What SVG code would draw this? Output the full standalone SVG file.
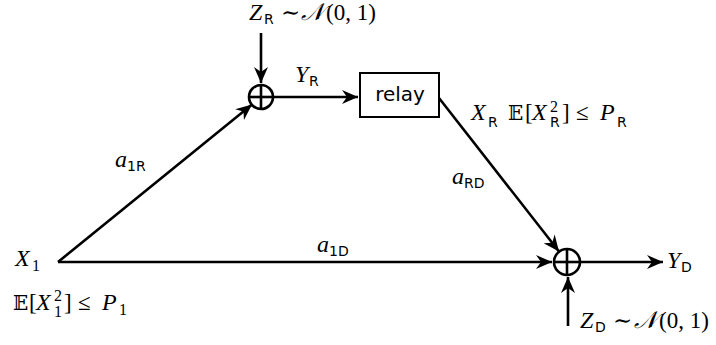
<svg xmlns="http://www.w3.org/2000/svg" width="716" height="345" viewBox="0 0 716 345">
<style>
text{fill:#000}
.m{font-family:"Liberation Serif","DejaVu Serif",serif;font-size:23px}
.i{font-style:italic;font-size:24px}
.s{font-family:"DejaVu Sans","Liberation Sans",sans-serif;font-size:14px;font-style:normal}
.n{font-family:"Liberation Serif",serif;font-size:16px;font-style:normal}
.bb{font-family:"DejaVu Serif","DejaVu Sans",serif;font-style:normal;font-size:20px}
.c{fill:none;stroke:#000;stroke-width:2.6}
.e{fill:none;stroke:#000;stroke-width:2.6}
</style>
<defs>
<marker id="ah" markerUnits="userSpaceOnUse" markerWidth="20" markerHeight="16" viewBox="-17 -8 19 16" refX="0" refY="0" orient="auto">
<path d="M0,0 L-16,-7 L-11,0 L-16,7 Z" fill="#000"/>
</marker>
</defs>
<g id="connectors">
<line class="e" x1="261" y1="33" x2="261" y2="83" marker-end="url(#ah)"/>
<line class="e" x1="274" y1="97" x2="358" y2="97" marker-end="url(#ah)"/>
<line class="e" x1="58" y1="262" x2="252" y2="104.5" marker-end="url(#ah)"/>
<line class="e" x1="58" y1="262" x2="552" y2="262" marker-end="url(#ah)"/>
<line class="e" x1="439" y1="98" x2="559" y2="251.5" marker-end="url(#ah)"/>
<line class="e" x1="581" y1="262" x2="663" y2="262" marker-end="url(#ah)"/>
<line class="e" x1="568" y1="326" x2="568" y2="277" marker-end="url(#ah)"/>
</g>
<g id="adderR">
<circle class="c" cx="261" cy="97" r="12"/>
<line class="c" x1="249" y1="97" x2="273" y2="97"/>
<line class="c" x1="261" y1="85" x2="261" y2="109"/>
</g>
<g id="adderD">
<circle class="c" cx="567" cy="262" r="13"/>
<line class="c" x1="554" y1="262" x2="580" y2="262"/>
<line class="c" x1="567" y1="249" x2="567" y2="275"/>
</g>
<g id="relay">
<rect x="360" y="73" width="79" height="44" fill="#fff" stroke="#000" stroke-width="2"/>
<text x="400" y="101" text-anchor="middle" font-family="DejaVu Sans, sans-serif" font-size="20">relay</text>
</g>
<g id="labels">
<text class="m"><tspan class="i" x="249" y="20">Z</tspan><tspan class="s" x="264" y="24">R</tspan><tspan x="281" y="20">∼</tspan><tspan class="i" x="301" y="20">𝒩</tspan><tspan x="326" y="20">(0, 1)</tspan></text>
<text class="m"><tspan class="i" x="295" y="82">Y</tspan><tspan class="s" x="309" y="86">R</tspan></text>
<text class="m"><tspan class="i" x="471" y="120">X</tspan><tspan class="s" x="488" y="127">R</tspan><tspan class="bb" x="508" y="120">𝔼</tspan><tspan x="525" y="120">[</tspan><tspan class="i" x="532" y="120">X</tspan><tspan class="n" x="550" y="112">2</tspan><tspan class="s" x="550" y="127">R</tspan><tspan x="562" y="120">]</tspan><tspan x="576" y="120">≤</tspan><tspan class="i" x="600" y="120">P</tspan><tspan class="s" x="617" y="127">R</tspan></text>
<text class="m"><tspan class="i" x="115" y="167">a</tspan><tspan class="s" x="127" y="171">1R</tspan></text>
<text class="m"><tspan class="i" x="317" y="252">a</tspan><tspan class="s" x="329" y="256">1D</tspan></text>
<text class="m"><tspan class="i" x="452" y="184">a</tspan><tspan class="s" x="464" y="188">RD</tspan></text>
<text class="m"><tspan class="i" x="15" y="266">X</tspan><tspan class="n" x="32" y="271">1</tspan></text>
<text class="m"><tspan class="bb" x="13" y="310">𝔼</tspan><tspan x="29" y="310">[</tspan><tspan class="i" x="36" y="310">X</tspan><tspan class="n" x="54" y="301">2</tspan><tspan class="n" x="54" y="317">1</tspan><tspan x="64" y="310">]</tspan><tspan x="78" y="310">≤</tspan><tspan class="i" x="102" y="310">P</tspan><tspan class="n" x="119" y="315">1</tspan></text>
<text class="m"><tspan class="i" x="667" y="268">Y</tspan><tspan class="s" x="681" y="272">D</tspan></text>
<text class="m"><tspan class="i" x="580" y="328">Z</tspan><tspan class="s" x="595" y="332">D</tspan><tspan x="613" y="328">∼</tspan><tspan class="i" x="634" y="328">𝒩</tspan><tspan x="659" y="328">(0, 1)</tspan></text>
</g>
</svg>
